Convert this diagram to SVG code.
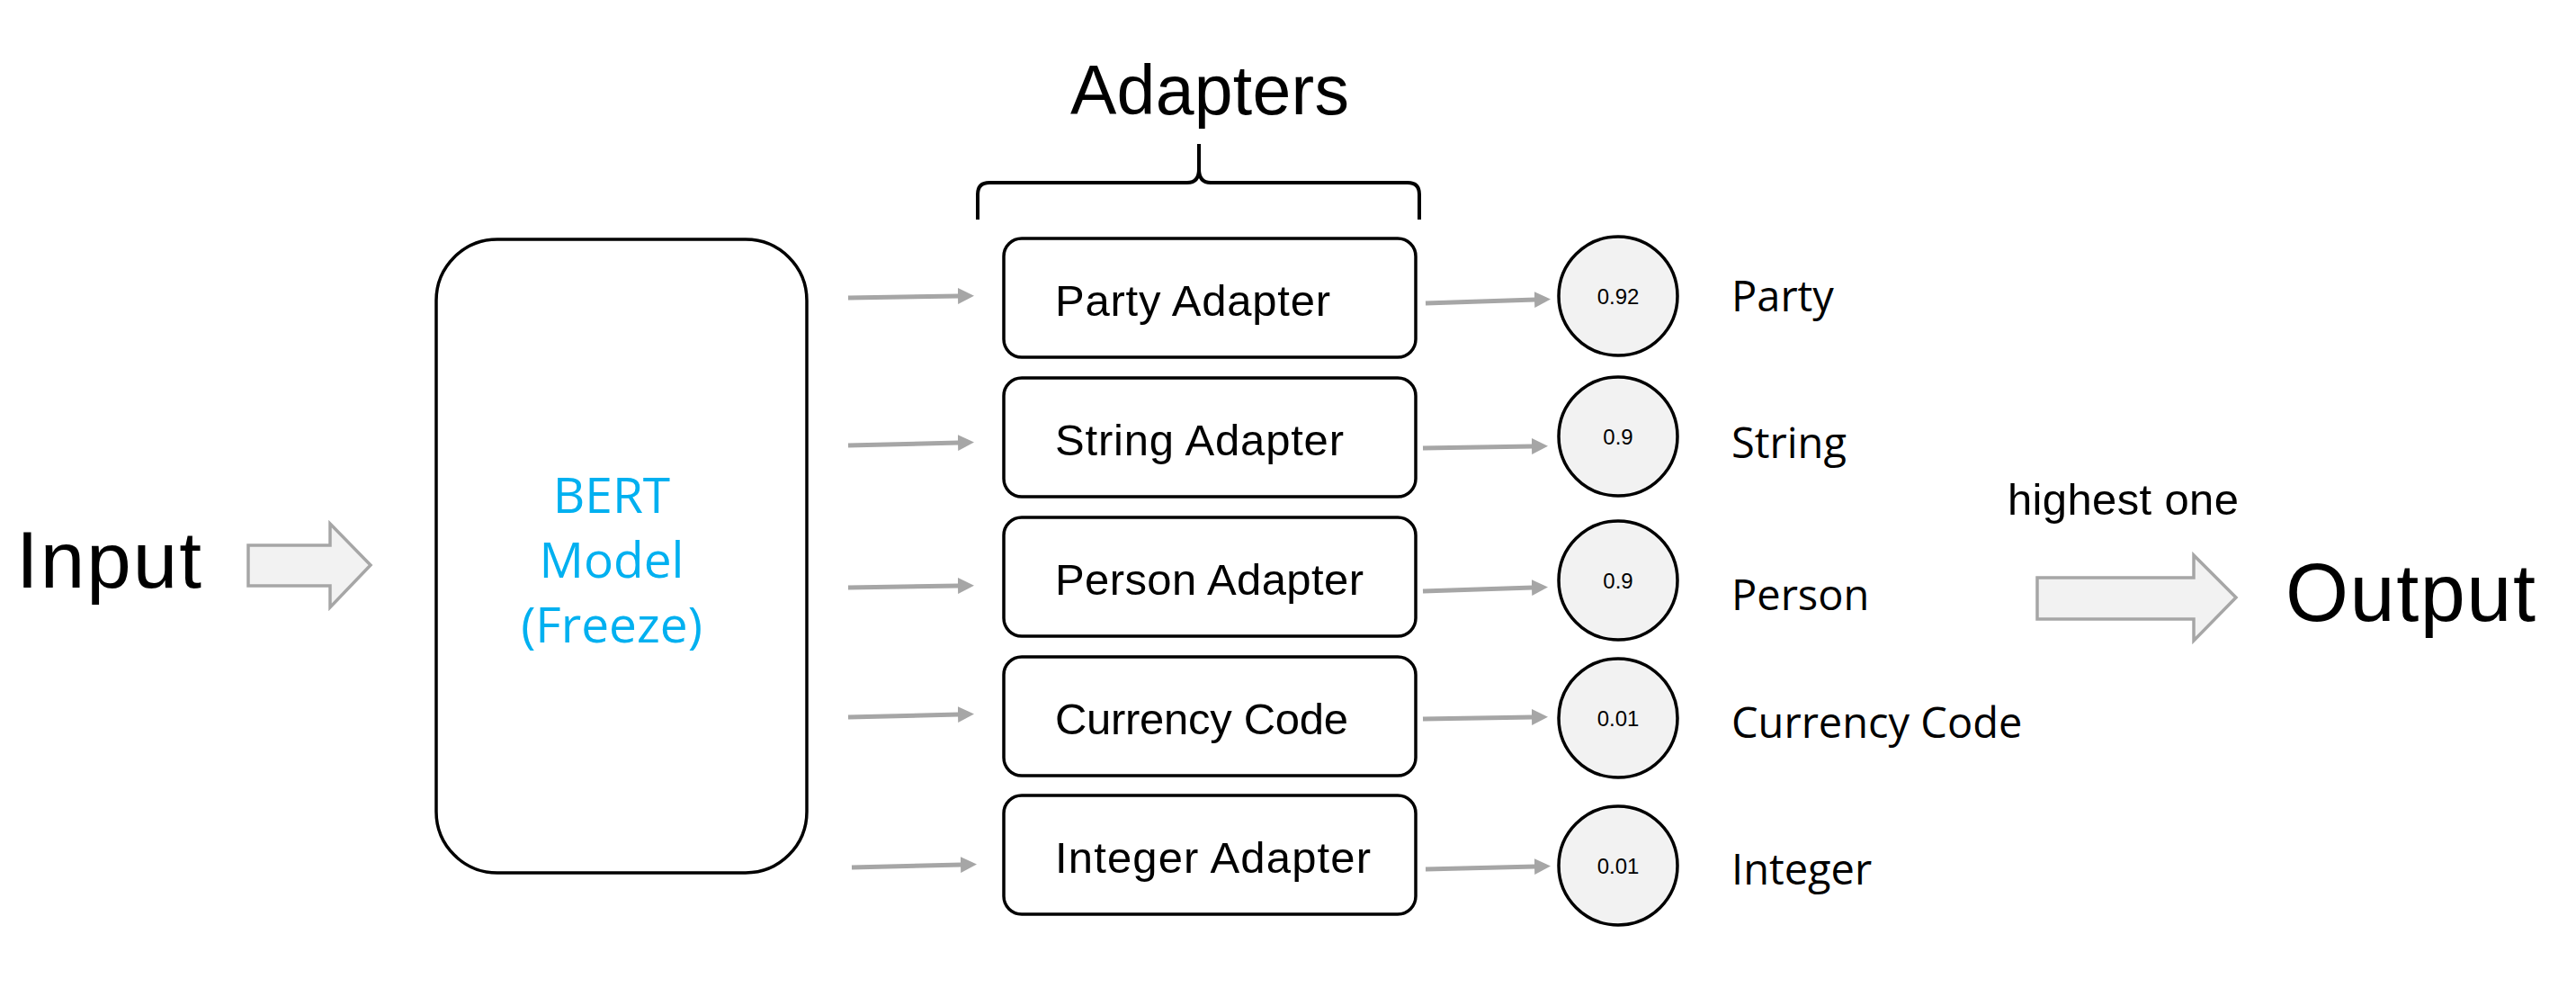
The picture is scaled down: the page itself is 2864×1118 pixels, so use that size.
<svg xmlns="http://www.w3.org/2000/svg" width="2864" height="1118" viewBox="0 0 2864 1118">
<style>
.box{fill:#ffffff;stroke:#000000;stroke-width:3.5}
.circ{fill:#f2f2f2;stroke:#000000;stroke-width:3.5}
.conn{stroke:#a6a6a6;stroke-width:5;fill:none}
.big{fill:#f2f2f2;stroke:#a6a6a6;stroke-width:3.5}
.cal{font-family:"Liberation Sans",Arial,sans-serif;fill:#000000}
.ad{font-family:"Liberation Sans",Arial,sans-serif;font-size:49px;fill:#000000}
.wide{font-family:"Open Sans","Noto Sans",sans-serif;fill:#000000}
.num{font-family:"Liberation Sans",Arial,sans-serif;font-size:24px;fill:#000000;text-anchor:middle}
.bert{font-family:"Open Sans","Noto Sans",sans-serif;font-size:55px;fill:#00b0f0;text-anchor:middle}
</style>
<defs>
<marker id="ah" markerUnits="userSpaceOnUse" markerWidth="18" markerHeight="18" viewBox="0 0 18 18" refX="1" refY="9" orient="auto">
<path d="M0,0 L18,9 L0,18 z" fill="#a6a6a6"/>
</marker>
</defs>
<rect width="2864" height="1118" fill="#ffffff"/>

<g id="input">
<text class="cal" x="18" y="653" font-size="89" textLength="206">Input</text>
<path class="big" d="M276,606 H367 V582 L412,628 L367,675 V651 H276 Z"/>
</g>

<g id="bert">
<rect class="box" x="485" y="266" width="412" height="704" rx="68" ry="68"/>
<text class="bert" x="680" y="570">BERT</text>
<text class="bert" x="680" y="642">Model</text>
<text class="bert" x="680" y="714">(Freeze)</text>
</g>

<g id="adapters-label">
<text class="cal" x="1190" y="127" font-size="77" textLength="310">Adapters</text>
<path d="M1087,244 V216 Q1087,203 1100,203 H1320 Q1333,203 1333,188 V160 M1333,188 Q1333,203 1346,203 H1565 Q1578,203 1578,216 V244" fill="none" stroke="#000000" stroke-width="4"/>
</g>

<g id="party-adapter">
<rect class="box" x="1116" y="265" width="458" height="132" rx="20"/>
<text class="ad" x="1173" y="351" textLength="306">Party Adapter</text>
</g>
<g id="string-adapter">
<rect class="box" x="1116" y="420" width="458" height="132" rx="20"/>
<text class="ad" x="1173" y="506" textLength="321">String Adapter</text>
</g>
<g id="person-adapter">
<rect class="box" x="1116" y="575" width="458" height="132" rx="20"/>
<text class="ad" x="1173" y="661" textLength="343">Person Adapter</text>
</g>
<g id="currency-code">
<rect class="box" x="1116" y="730" width="458" height="132" rx="20"/>
<text class="ad" x="1173" y="816" textLength="326">Currency Code</text>
</g>
<g id="integer-adapter">
<rect class="box" x="1116" y="884" width="458" height="132" rx="20"/>
<text class="ad" x="1173" y="970" textLength="351">Integer Adapter</text>
</g>

<g id="score-party">
<circle class="circ" cx="1799" cy="329" r="66"/>
<text class="num" x="1799" y="338">0.92</text>
</g>
<g id="score-string">
<circle class="circ" cx="1799" cy="485" r="66"/>
<text class="num" x="1799" y="494">0.9</text>
</g>
<g id="score-person">
<circle class="circ" cx="1799" cy="645" r="66"/>
<text class="num" x="1799" y="654">0.9</text>
</g>
<g id="score-currency">
<circle class="circ" cx="1799" cy="798" r="66"/>
<text class="num" x="1799" y="807">0.01</text>
</g>
<g id="score-integer">
<circle class="circ" cx="1799" cy="962" r="66"/>
<text class="num" x="1799" y="971">0.01</text>
</g>

<g id="labels">
<text class="wide" x="1925" y="346" font-size="47">Party</text>
<text class="wide" x="1925" y="509" font-size="47">String</text>
<text class="wide" x="1925" y="678" font-size="47">Person</text>
<text class="wide" x="1925" y="820" font-size="47">Currency Code</text>
<text class="wide" x="1925" y="983" font-size="47">Integer</text>
</g>

<g id="output">
<text class="cal" x="2232" y="572" font-size="49" textLength="257">highest one</text>
<path class="big" d="M2265,642 H2439 V617 L2486,664 L2439,712 V688 H2265 Z"/>
<text class="cal" x="2541" y="690" font-size="90" textLength="278">Output</text>
</g>

<g id="connectors">
<line class="conn" x1="943" y1="331" x2="1066" y2="329" marker-end="url(#ah)"/>
<line class="conn" x1="943" y1="495" x2="1066" y2="492" marker-end="url(#ah)"/>
<line class="conn" x1="943" y1="653" x2="1066" y2="651" marker-end="url(#ah)"/>
<line class="conn" x1="943" y1="797" x2="1066" y2="794" marker-end="url(#ah)"/>
<line class="conn" x1="947" y1="964" x2="1069" y2="961" marker-end="url(#ah)"/>
<line class="conn" x1="1585" y1="337" x2="1707" y2="333" marker-end="url(#ah)"/>
<line class="conn" x1="1582" y1="498" x2="1704" y2="496" marker-end="url(#ah)"/>
<line class="conn" x1="1582" y1="657" x2="1704" y2="653" marker-end="url(#ah)"/>
<line class="conn" x1="1582" y1="799" x2="1704" y2="797" marker-end="url(#ah)"/>
<line class="conn" x1="1585" y1="966" x2="1707" y2="963" marker-end="url(#ah)"/>
</g>
</svg>
